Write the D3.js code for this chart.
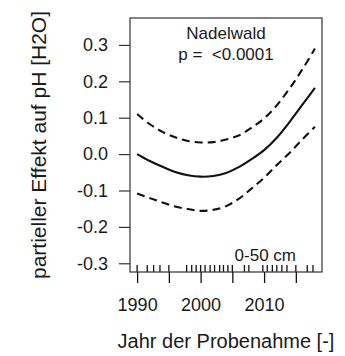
<!DOCTYPE html>
<html>
<head>
<meta charset="utf-8">
<script src="https://cdn.jsdelivr.net/npm/d3@7/dist/d3.min.js"></script>
<style>
  html, body { margin: 0; padding: 0; background: #fff; }
  svg { display: block; }
  text { font-family: "Liberation Sans", Arial, "DejaVu Sans", sans-serif; fill: #1a1a1a; }
</style>
</head>
<body>
<script>
// ---- data ----
const years = [1990, 1992, 1994, 1996, 1998, 2000, 2002, 2004, 2006, 2008, 2010, 2012, 2014, 2016, 2018];
const effect = [0.000, -0.019, -0.035, -0.049, -0.058, -0.062, -0.060, -0.052, -0.036, -0.014, 0.011, 0.045, 0.088, 0.135, 0.182];
const upperCI = [0.110, 0.082, 0.061, 0.046, 0.036, 0.032, 0.033, 0.040, 0.051, 0.072, 0.098, 0.134, 0.180, 0.232, 0.290];
const lowerCI = [-0.108, -0.121, -0.133, -0.144, -0.151, -0.156, -0.153, -0.143, -0.123, -0.095, -0.065, -0.030, 0.003, 0.040, 0.075];
const rugYears = [1990.0, 1991.6, 1992.6, 1993.6, 1995.0, 1997.8, 1998.6, 1999.3, 2000.0, 2000.7, 2001.5, 2002.2, 2003.0, 2003.6, 2004.3, 2005.0, 2006.9, 2007.6, 2009.8, 2010.5, 2011.3, 2012.0, 2012.8, 2013.6, 2015.0, 2016.8, 2017.7];
const xTicks = [1990, 1995, 2000, 2005, 2010, 2015];
const xTickLabels = ["1990", "", "2000", "", "2010", ""];
const yTicks = [-0.3, -0.2, -0.1, 0.0, 0.1, 0.2, 0.3];
const titleText = "Nadelwald";
const pText = "p =  <0.0001";
const depthText = "0-50 cm";
const xLabel = "Jahr der Probenahme [-]";
const yLabel = "partieller Effekt auf pH [H2O]";

// ---- layout ----
const W = 345, H = 356;
const box = { left: 130, right: 322, top: 18, bottom: 272 };

const svg = d3.select("body").append("svg").attr("width", W).attr("height", H);

const x = d3.scaleLinear().domain([1988.88, 2019.12]).range([box.left, box.right]);
const y = d3.scaleLinear().domain([-0.324, 0.374]).range([box.bottom, box.top]);

// curves
const line = d3.line().x(d => x(d[0])).y(d => y(d[1])).curve(d3.curveCatmullRom.alpha(0.5));
const mk = arr => years.map((yr, i) => [yr, arr[i]]);

svg.append("path").attr("d", line(mk(upperCI)))
  .attr("fill", "none").attr("stroke", "#111").attr("stroke-width", 2.1)
  .attr("stroke-dasharray", "8,5");
svg.append("path").attr("d", line(mk(lowerCI)))
  .attr("fill", "none").attr("stroke", "#111").attr("stroke-width", 2.1)
  .attr("stroke-dasharray", "8,5");
svg.append("path").attr("d", line(mk(effect)))
  .attr("fill", "none").attr("stroke", "#111").attr("stroke-width", 2.1);

// rug
svg.append("g").selectAll("line").data(rugYears).join("line")
  .attr("x1", d => x(d)).attr("x2", d => x(d))
  .attr("y1", box.bottom).attr("y2", box.bottom - 7)
  .attr("stroke", "#111").attr("stroke-width", 1.3);

// box
svg.append("rect").attr("x", box.left).attr("y", box.top)
  .attr("width", box.right - box.left).attr("height", box.bottom - box.top)
  .attr("fill", "none").attr("stroke", "#333").attr("stroke-width", 1.2);

// y axis
const yAxis = d3.axisLeft(y).tickValues(yTicks).tickFormat(d3.format(".1f")).tickSizeOuter(0).tickSize(11).tickPadding(11);
const gy = svg.append("g").attr("transform", `translate(${box.left},0)`).call(yAxis);
gy.select(".domain").remove();
gy.selectAll(".tick line").attr("stroke", "#333").attr("stroke-width", 1.2);
gy.selectAll(".tick text").attr("font-size", 18).attr("fill", "#1a1a1a")
  .text(d => d3.format(".1f")(d).replace("−", "-"));

// x axis
const xAxis = d3.axisBottom(x).tickValues(xTicks).tickFormat((d, i) => xTickLabels[i]).tickSizeOuter(0).tickSize(11).tickPadding(15);
const gx = svg.append("g").attr("transform", `translate(0,${box.bottom})`).call(xAxis);
gx.select(".domain").remove();
gx.selectAll(".tick line").attr("stroke", "#111").attr("stroke-width", 1.3);
gx.selectAll(".tick text").attr("font-size", 18).attr("fill", "#1a1a1a");
gx.attr("font-family", null);
gy.attr("font-family", null);

// annotation texts
const cx = (box.left + box.right) / 2;
svg.append("text").attr("x", cx).attr("y", 39).attr("text-anchor", "middle").attr("font-size", 17).text(titleText);
svg.append("text").attr("x", cx).attr("y", 60).attr("text-anchor", "middle").attr("font-size", 17)
  .style("white-space", "pre").text(pText);
svg.append("text").attr("x", 296).attr("y", 261).attr("text-anchor", "end").attr("font-size", 17).text(depthText);

// axis labels
svg.append("text").attr("x", cx).attr("y", 348).attr("text-anchor", "middle").attr("font-size", 20).text(xLabel);
svg.append("text").attr("transform", `translate(46,${(box.top + box.bottom) / 2}) rotate(-90)`)
  .attr("text-anchor", "middle").attr("font-size", 21).text(yLabel);
</script>
</body>
</html>
